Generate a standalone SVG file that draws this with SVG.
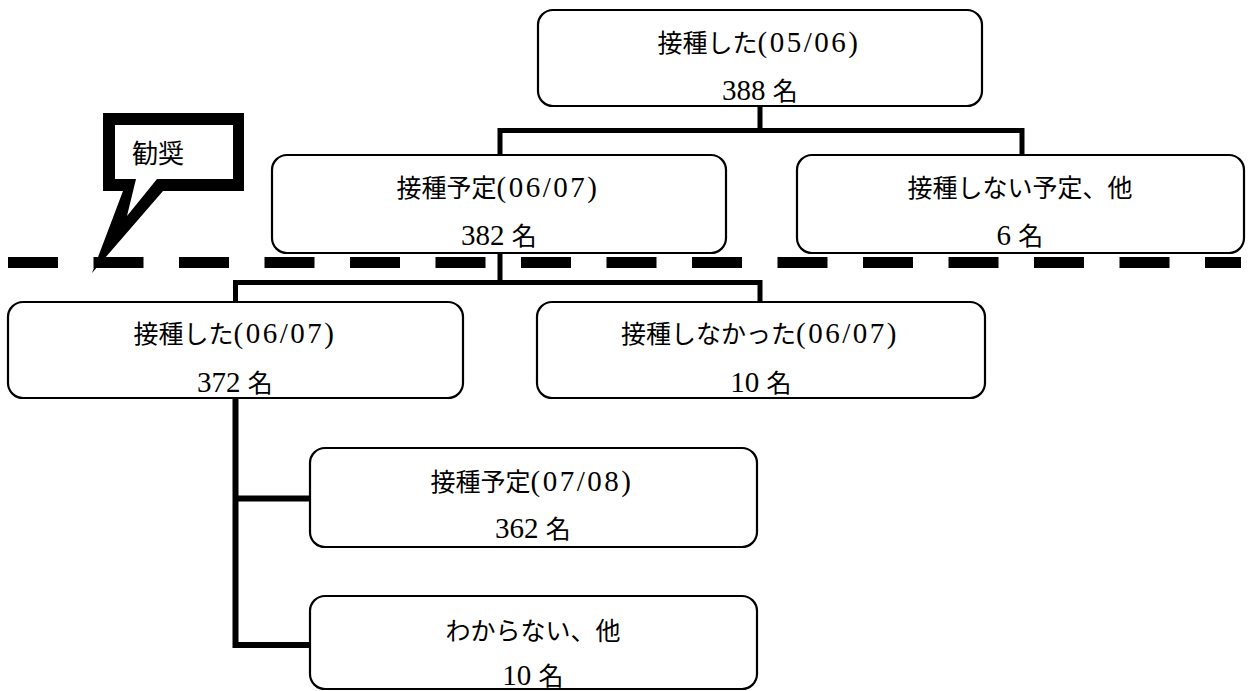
<svg xmlns="http://www.w3.org/2000/svg" width="1248" height="691" viewBox="0 0 1248 691">
<style>
.box{fill:#fff;stroke:#000;stroke-width:2.2}
.t{font-family:"Liberation Serif","Noto Sans CJK JP",serif;font-size:25px;text-anchor:middle;fill:#000}
.p{font-size:29px;letter-spacing:2.5px}
.n{font-size:29px}
.c{font-family:"Noto Sans CJK JP",sans-serif;font-size:26px;fill:#000}
.ln{fill:none;stroke:#000;stroke-width:5;stroke-linejoin:miter}
</style>
<rect width="1248" height="691" fill="#fff"/>
<g id="connectors">
<path class="ln" d="M760 106V130.5M500 155V130.5H1022V155"/>
<path class="ln" d="M500 253V282.5M235.5 302V282.5H760V302"/>
<path class="ln" style="stroke-width:6" d="M235.5 398V645H310M235.5 498.5H310"/>
</g>
<g id="divider">
<line x1="8" y1="262.5" x2="1241" y2="262.5" stroke="#000" stroke-width="11" stroke-dasharray="50 35.5"/>
</g>
<g id="callout">
<polygon points="103,113 244,113 244,191 163,191 92,273 123,191 103,191" fill="#000"/>
<polygon points="115,125 233,125 233,179 157,179 127,216 136,179 115,179" fill="#fff"/>
<text class="c" x="132" y="163">勧奨</text>
</g>
<g id="n1">
<rect class="box" x="538" y="10" width="444" height="96" rx="15"/>
<text class="t" x="759" y="52">接種した<tspan class="p">(05/06)</tspan></text>
<text class="t" x="760" y="100"><tspan class="n">388 </tspan>名</text>
</g>
<g id="n2">
<rect class="box" x="272" y="155" width="454" height="98" rx="15"/>
<text class="t" x="498" y="197">接種予定<tspan class="p">(06/07)</tspan></text>
<text class="t" x="499" y="245"><tspan class="n">382 </tspan>名</text>
</g>
<g id="n3">
<rect class="box" x="797" y="155" width="447" height="98" rx="15"/>
<text class="t" x="1020" y="197">接種しない予定、他</text>
<text class="t" x="1020" y="245"><tspan class="n">6 </tspan>名</text>
</g>
<g id="n4">
<rect class="box" x="8" y="302" width="455" height="96" rx="15"/>
<text class="t" x="235" y="343">接種した<tspan class="p">(06/07)</tspan></text>
<text class="t" x="235" y="392"><tspan class="n">372 </tspan>名</text>
</g>
<g id="n5">
<rect class="box" x="537" y="302" width="448" height="96" rx="15"/>
<text class="t" x="760" y="343">接種しなかった<tspan class="p">(06/07)</tspan></text>
<text class="t" x="761" y="392"><tspan class="n">10 </tspan>名</text>
</g>
<g id="n6">
<rect class="box" x="310" y="448" width="447" height="99" rx="15"/>
<text class="t" x="532" y="491">接種予定<tspan class="p">(07/08)</tspan></text>
<text class="t" x="533" y="538"><tspan class="n">362 </tspan>名</text>
</g>
<g id="n7">
<rect class="box" x="310" y="596" width="447" height="93" rx="15"/>
<text class="t" x="533" y="640">わからない、他</text>
<text class="t" x="533" y="685"><tspan class="n">10 </tspan>名</text>
</g>
</svg>
